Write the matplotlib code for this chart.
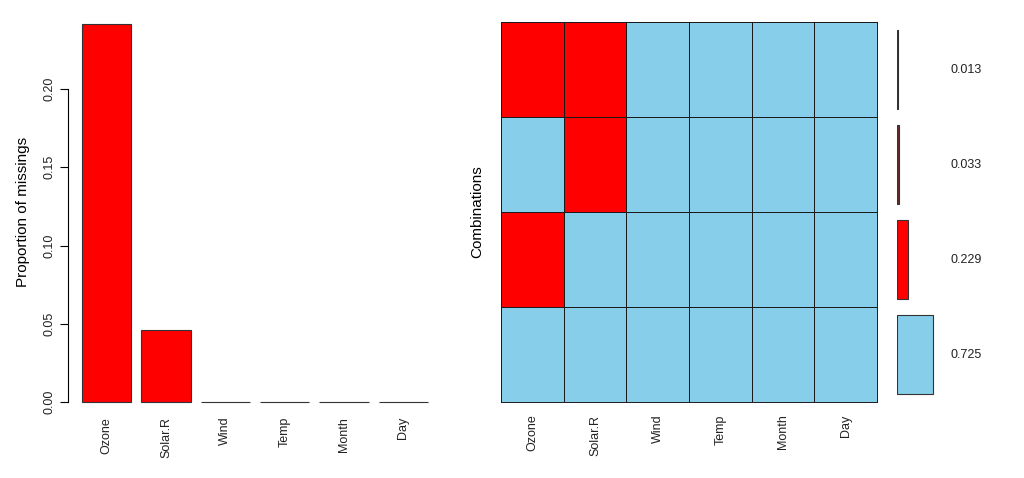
import numpy as np
import matplotlib
matplotlib.use("Agg")
import matplotlib.pyplot as plt
from matplotlib.colors import ListedColormap

plt.rcParams['font.family'] = ['Liberation Sans', 'DejaVu Sans']

# airquality missing pattern
variables = ["Ozone", "Solar.R", "Wind", "Temp", "Month", "Day"]
prop_missing = [0.2418, 0.0458, 0.0, 0.0, 0.0, 0.0]

# combinations, top row first (1 = missing)
combos = [
    [1, 1, 0, 0, 0, 0],
    [0, 1, 0, 0, 0, 0],
    [1, 0, 0, 0, 0, 0],
    [0, 0, 0, 0, 0, 0],
]
combo_freq = [0.013, 0.033, 0.229, 0.725]
combo_cols = ["#1c1c1c", "#6e2a2a", "#ff0000", "#87ceeb"]

W, H = 1024, 478
fig = plt.figure(figsize=(W / 100, H / 100), dpi=100)

def rect(x0, y0, x1, y1):
    return [x0 / W, 1 - y1 / H, (x1 - x0) / W, (y1 - y0) / H]

# left: barplot of proportions
ax1 = fig.add_axes(rect(68, 10, 442, 414))
x = np.arange(len(variables)) * 1.2 + 0.7
ax1.bar(x, prop_missing, width=1.0, color="#ff0000", edgecolor="#333333", linewidth=0.8)
ax1.set_xlim(-0.08, 7.48)
ax1.set_ylim(-(414 - 402) / 1565, (402 - 10) / 1565)
for s in ["top", "right", "bottom"]:
    ax1.spines[s].set_visible(False)
ax1.spines["left"].set_bounds(0, 0.20)
ax1.spines["left"].set_linewidth(0.8)
ax1.set_yticks([0, 0.05, 0.10, 0.15, 0.20])
ax1.set_yticklabels(["0.00", "0.05", "0.10", "0.15", "0.20"], rotation=90, va="center", fontsize=9, color="#222222")
ax1.tick_params(axis="y", length=6, width=0.8, pad=3)
ax1.set_xticks(x)
ax1.set_xticklabels(variables, rotation=90, fontsize=9, color="#222222")
ax1.tick_params(axis="x", length=0, pad=2)
ax1.set_ylabel("Proportion of missings", fontsize=11, labelpad=10)

# right: combinations heatmap
ax2 = fig.add_axes(rect(501, 22, 877, 402))
cmap = ListedColormap(["#87ceeb", "#ff0000"])
ax2.pcolormesh(np.array(combos), cmap=cmap, edgecolors="#1a1a1a", linewidth=0.5, vmin=0, vmax=1)
ax2.set_xlim(0, 6)
ax2.set_ylim(4, 0)
for s in ax2.spines.values():
    s.set_linewidth(0.7)
    s.set_color("#1a1a1a")
ax2.set_yticks([])
ax2.set_xticks(np.arange(6) + 0.5)
ax2.set_xticklabels(variables, rotation=90, fontsize=9, color="#222222")
ax2.tick_params(axis="x", length=0, pad=9)
ax2.set_ylabel("Combinations", fontsize=11, labelpad=12)

# frequency bars
ax3 = fig.add_axes(rect(897, 22, 1010, 402))
yy = np.arange(4) + 0.5
ax3.barh(yy, combo_freq, height=0.83, color=combo_cols, edgecolor="#333333", linewidth=0.8)
ax3.set_xlim(0, 0.725 * 113 / 36)
ax3.set_ylim(4, 0)
ax3.axis("off")
for yv, f in zip(yy, combo_freq):
    ax3.text(0.47, 1 - yv / 4, f"{f:.3f}", transform=ax3.transAxes, ha="left", va="center",
             fontsize=9, color="#222222")

fig.savefig("out.png", dpi=100)
